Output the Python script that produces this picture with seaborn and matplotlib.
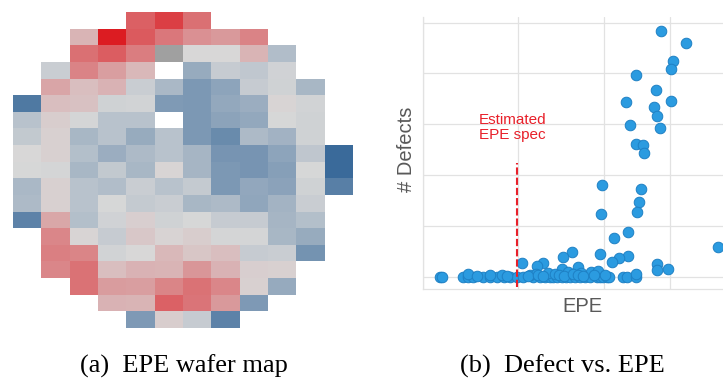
import numpy as np
import pandas as pd
import matplotlib
matplotlib.use("Agg")
import matplotlib.pyplot as plt
from matplotlib.colors import LinearSegmentedColormap, ListedColormap
import seaborn as sns

N = np.nan
# ---- (a) EPE wafer map: rows top->bottom, 12 columns (negative = blue, positive = red)
r00 = [N, N, N, N, 0.64, 0.81, 0.55, N, N, N, N, N]
r01 = [N, N, 0.19, 1.00, 0.67, 0.51, 0.38, 0.33, 0.45, N, N, N]
r02 = [N, N, 0.55, 0.65, 0.48, N, 0.00, 0.00, 0.19, -0.25, N, N]
r03 = [N, -0.10, 0.45, 0.31, 0.17, N, -0.41, -0.11, -0.15, -0.05, N, N]
r04 = [N, 0.27, 0.14, 0.20, -0.10, -0.29, -0.58, -0.47, -0.11, -0.06, -0.30, N]
r05 = [-0.86, 0.14, 0.12, -0.06, -0.04, -0.56, -0.58, -0.43, -0.39, 0.02, -0.04, N]
r06 = [-0.20, 0.06, -0.03, -0.20, -0.20, N, -0.58, -0.48, -0.43, -0.01, -0.06, N]
r07 = [-0.14, 0.04, -0.30, -0.20, -0.41, -0.20, -0.58, -0.70, -0.27, -0.34, -0.06, N]
r08 = [0.00, 0.04, -0.23, -0.39, -0.27, -0.20, -0.32, -0.61, -0.61, -0.47, -0.16, -1.00]
r09 = [-0.01, -0.03, -0.30, -0.14, -0.30, 0.02, -0.32, -0.58, -0.61, -0.52, -0.01, -1.00]
r10 = [-0.29, 0.04, -0.20, -0.25, -0.10, -0.20, -0.13, -0.58, -0.44, -0.49, -0.06, -0.81]
r11 = [-0.27, 0.04, -0.20, -0.01, -0.13, -0.10, -0.30, -0.27, -0.46, -0.33, -0.10, N]
r12 = [-0.78, 0.26, -0.23, -0.05, 0.05, -0.06, -0.01, -0.11, -0.11, -0.32, -0.23, N]
r13 = [N, 0.43, 0.02, -0.11, 0.09, 0.03, 0.06, -0.03, -0.03, -0.30, -0.41, N]
r14 = [N, 0.47, 0.44, -0.04, 0.00, 0.17, 0.10, 0.14, -0.11, -0.10, -0.63, N]
r15 = [N, 0.43, 0.54, 0.14, 0.20, 0.19, 0.35, 0.20, 0.05, 0.04, N, N]
r16 = [N, N, 0.54, 0.32, 0.31, 0.44, 0.54, 0.43, 0.04, -0.42, N, N]
r17 = [N, N, N, 0.20, 0.19, 0.63, 0.53, 0.33, -0.57, N, N, N]
r18 = [N, N, N, N, -0.57, 0.06, -0.11, -0.78, N, N, N, N]
wafer_rows = [r00, r01, r02, r03, r04, r05, r06, r07, r08, r09,
              r10, r11, r12, r13, r14, r15, r16, r17, r18]
gray_cells = [(2, 5)]  # die drawn in neutral grey (no data)

# ---- (b) Defects vs EPE
epe_x = [23.77, 26.3, 25.03, 24.77, 21.3, 23.3, 20.3, 23.1, 24.77, 23.37,
         20.7, 23.7, 21.3, 22.03, 22.1, 17.93, 21.77, 21.63, 21.43, 17.77,
         20.53, 19.13, 29.53, 17.7, 20.53, 14.93, 14.03, 19.6, 18.87, 23.43,
         24.53, 23.43, 9.87, 12.03, 11.37, 15.53, 13.87,
         1.7, 1.87, 4.0, 4.5, 4.97, 6.0, 6.7, 7.4, 8.1, 8.7,
         9.37, 10.0, 11.0, 11.7, 12.2, 12.7, 13.0, 13.4, 13.9, 14.3,
         14.7, 15.2, 15.7, 16.2, 16.7, 17.37, 17.7, 18.03, 18.37, 18.63,
         19.97, 20.37, 21.3,
         4.5, 6.7, 12.5, 14.5, 16.8, 17.5, 15.8, 21.3, 7.9, 10.7, 13.2, 11.3,
         10.5, 11.5, 12.0, 13.6, 14.1, 15.0, 15.5, 16.0, 17.1, 18.2, 5.4, 8.4]
defects_y = [48.4, 45.9, 42.5, 40.9, 39.7, 36.7, 34.3, 33.4, 34.6, 31.6,
             29.8, 29.2, 26.2, 26.0, 24.3, 18.1, 17.3, 14.8, 12.8, 12.3,
             8.9, 7.6, 5.9, 4.4, 4.1, 4.9, 3.95, 3.6, 3.0, 2.6,
             1.6, 1.3, 2.8, 2.8, 2.1, 2.0, 1.5,
             0, 0, 0, 0, 0, 0, 0, 0, 0, 0,
             0, 0, 0, 0, 0, 0, 0, 0, 0, 0,
             0, 0, 0, 0, 0, 0, 0, 0, 0, 0,
             0, 0, 0,
             0.6, 0.4, 0.8, 1.0, 0.9, 1.1, 0.7, 0.5, 0.3, 0.4, 0.5, 0.6,
             0.2, 0.3, 0.1, 0.4, 0.2, 0.5, 0.3, 0.2, 0.4, 0.3, 0.1, 0.2]
x_grid = [0, 9.5, 18.1, 24.7]
y_grid = [0, 10, 20, 30, 40, 50]
spec_x = 9.43
spec_y = (-2.0, 22.3)

# ---------------------------------------------------------------- figure
sns.set_theme(style="white")
plt.rcParams['font.family'] = ['Liberation Sans', 'DejaVu Sans']
fig = plt.figure(figsize=(7.23, 3.81), dpi=100)
W, H = 723, 381

# (a) heat map
wafer = pd.DataFrame(np.array(wafer_rows, dtype=float))
cmap = LinearSegmentedColormap.from_list("epe", ["#3a6a9a", "#d8d8d8", "#dc1c22"])
axa = fig.add_axes([13 / W, 1 - 328 / H, 340 / W, 316 / H])
sns.heatmap(wafer, ax=axa, cmap=cmap, vmin=-1, vmax=1, cbar=False,
            xticklabels=False, yticklabels=False, linewidths=0)
gray = np.full(wafer.shape, np.nan)
for r, c in gray_cells:
    gray[r, c] = 1.0
sns.heatmap(pd.DataFrame(gray), ax=axa, cmap=ListedColormap(["#a0a0a0"]),
            cbar=False, xticklabels=False, yticklabels=False)
axa.set_axis_off()

# (b) scatter
axb = fig.add_axes([423 / W, 1 - 289 / H, 300 / W, 272 / H])
df = pd.DataFrame({"EPE": epe_x, "Defects": defects_y})
sns.scatterplot(data=df, x="EPE", y="Defects", ax=axb, s=58,
                color="#2b9be0", edgecolor="#1e80c4", linewidth=0.7, zorder=3)
axb.set_xlim(0, 30)
axb.set_ylim(-2.4, 51.1)
axb.set_xticks(x_grid)
axb.set_yticks(y_grid)
axb.set_xticklabels([])
axb.set_yticklabels([])
axb.grid(True, color="#e2e2e2", linewidth=0.9)
axb.tick_params(axis="x", length=3, color="#e2e2e2", width=0.9)
axb.tick_params(axis="y", length=0)
for side in ["top", "right"]:
    axb.spines[side].set_visible(False)
for side in ["left", "bottom"]:
    axb.spines[side].set_visible(True)
    axb.spines[side].set_color("#e2e2e2")
    axb.spines[side].set_linewidth(0.9)
axb.set_facecolor("white")
axb.plot([spec_x, spec_x], list(spec_y), color="#e8202a", lw=1.5,
         linestyle=(0, (3.5, 1.4)), zorder=4)
axb.text(8.95, 29.4, "Estimated\nEPE spec", color="#e8202a", fontsize=11,
         ha="center", va="center", linespacing=1.15)
axb.set_xlabel("")
axb.set_ylabel("")
fig.text(582.5 / W, 1 - 307 / H, "EPE", fontsize=14.5, color="#595959",
         ha="center", va="center")
fig.text(406.5 / W, 1 - 149.5 / H, "# Defects", fontsize=14.5, color="#595959",
         ha="center", va="center", rotation=90)

# captions
fig.text(183.5 / W, 1 - 372.5 / H, "(a)  EPE wafer map", fontsize=19,
         family="Liberation Serif", ha="center", va="baseline", color="black")
fig.text(562.5 / W, 1 - 372.5 / H, "(b)  Defect vs. EPE", fontsize=19,
         family="Liberation Serif", ha="center", va="baseline", color="black")

fig.savefig("out.png", dpi=100)
